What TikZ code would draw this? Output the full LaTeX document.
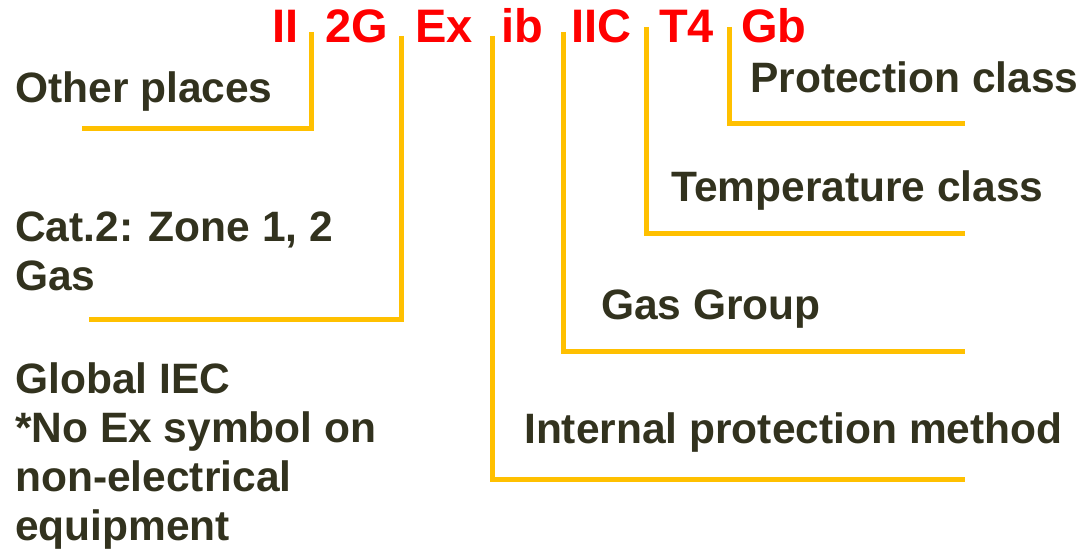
\documentclass[tikz,border=0pt]{standalone}
\usepackage{fontspec}
\setmainfont{Liberation Sans}
\usepackage{xcolor}
\usepackage{tikz}
\definecolor{exred}{RGB}{255,0,0}
\definecolor{exline}{RGB}{255,192,0}
\definecolor{extext}{RGB}{50,50,30}

\begin{document}
\begin{tikzpicture}[x=1pt,y=-1pt,
	codetxt/.style={text=exred,font=\fontsize{47}{56}\selectfont\bfseries,inner sep=0pt,anchor=base west},
	desc/.style={text=extext,font=\fontsize{42.5}{49}\selectfont\bfseries,inner sep=0pt,anchor=base west,align=left},
	lead/.style={draw=exline,line width=5pt}]
	\useasboundingbox (0,0) rectangle (1090,553);
	\node[codetxt] (ii) at (272,43) {II};
	\node[codetxt] (cat) at (325,43) {2G};
	\node[codetxt] (ex) at (415,43) {Ex};
	\node[codetxt] (ib) at (501,43) {ib};
	\node[codetxt] (iic) at (571,43) {IIC};
	\node[codetxt] (t4) at (659,43) {T4};
	\node[codetxt] (gb) at (741,43) {Gb};
	\node[desc] (other) at (15,103) {Other places};
	\node[desc] (zone) at (15,291) {Cat.2: Zone 1, 2\\Gas};
	\node[desc] (iec) at (15,540) {Global IEC\\*No Ex symbol on\\non-electrical\\equipment};
	\node[desc] (prot) at (750,93) {Protection class};
	\node[desc] (temp) at (671,202) {Temperature class};
	\node[desc] (group) at (601,320) {Gas Group};
	\node[desc] (method) at (524,443) {Internal protection method};
	\coordinate (t1) at (311,32);
	\coordinate (e1) at (82,129);
	\coordinate (t2) at (401,36);
	\coordinate (e2) at (89,320);
	\coordinate (t3) at (492,36);
	\coordinate (e3) at (965,479);
	\coordinate (t4) at (563,32);
	\coordinate (e4) at (965,352);
	\coordinate (t5) at (646,27);
	\coordinate (e5) at (965,234);
	\coordinate (t6) at (729,27);
	\coordinate (e6) at (965,124);
	\draw[lead] (t1) |- (e1);
	\draw[lead] (t2) |- (e2);
	\draw[lead] (t3) |- (e3);
	\draw[lead] (t4) |- (e4);
	\draw[lead] (t5) |- (e5);
	\draw[lead] (t6) |- (e6);
\end{tikzpicture}
\end{document}
